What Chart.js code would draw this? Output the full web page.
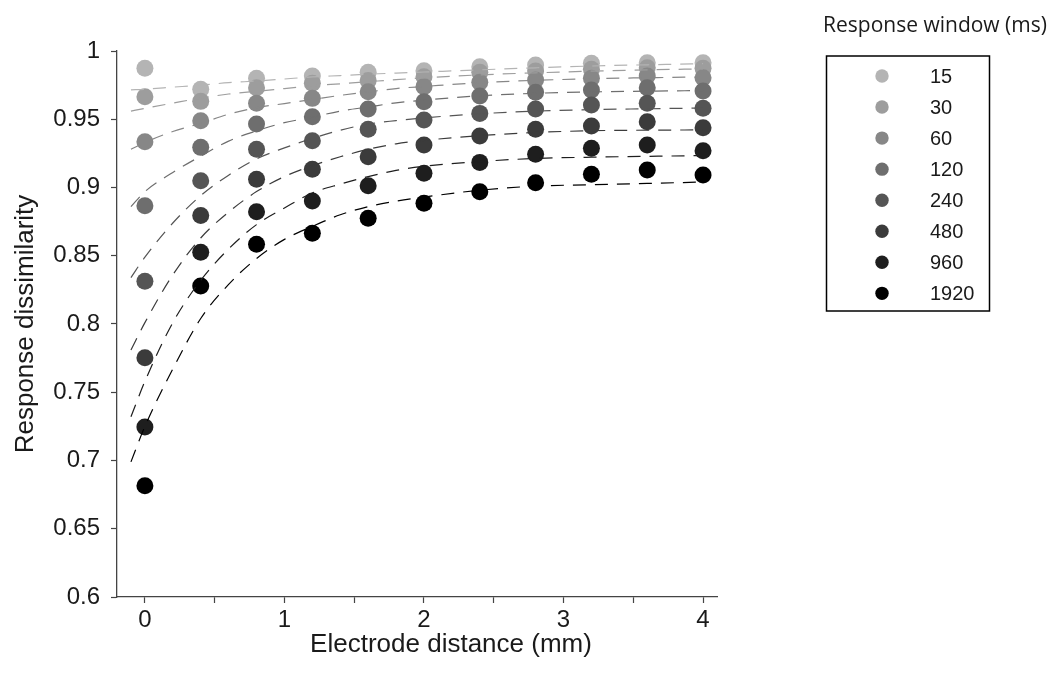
<!DOCTYPE html>
<html>
<head>
<meta charset="utf-8">
<script src="https://cdn.jsdelivr.net/npm/chart.js@4.4.1/dist/chart.umd.min.js"></script>
<style>
  html, body { margin: 0; padding: 0; background: #fff; }
  #wrap { width: 1055px; height: 675px; }
</style>
</head>
<body>
<div id="wrap"><canvas id="c" width="1055" height="675"></canvas></div>
<script>
// electrode distance (mm) for the measured points
const distanceMm = [0, 0.4, 0.8, 1.2, 1.6, 2, 2.4, 2.8, 3.2, 3.6, 4];
const windowLabels = ["15", "30", "60", "120", "240", "480", "960", "1920"];
const xTicks = [0, 0.5, 1, 1.5, 2, 2.5, 3, 3.5, 4];
const yTicks = [0.6, 0.65, 0.7, 0.75, 0.8, 0.85, 0.9, 0.95, 1];

// measured dissimilarity
const dots15 = [0.9873, 0.9719, 0.980, 0.9817, 0.9844, 0.9856, 0.9885, 0.9897, 0.991, 0.9914, 0.9914];
const dots30 = [0.9665, 0.9631, 0.9731, 0.9763, 0.9783, 0.9812, 0.9844, 0.9853, 0.9866, 0.9878, 0.9873];
const dots60 = [0.9336, 0.9489, 0.9617, 0.9653, 0.9702, 0.9739, 0.9771, 0.9788, 0.980, 0.9817, 0.9804];
const dots120 = [0.8867, 0.9294, 0.9465, 0.9519, 0.9575, 0.9629, 0.967, 0.9697, 0.9714, 0.9731, 0.9707];
const dots240 = [0.8313, 0.905, 0.928, 0.9343, 0.9426, 0.9495, 0.9543, 0.9575, 0.9604, 0.9617, 0.958];
const dots480 = [0.7753, 0.8795, 0.906, 0.9133, 0.9226, 0.9311, 0.9377, 0.9426, 0.9451, 0.9482, 0.9438];
const dots960 = [0.7245, 0.8525, 0.8823, 0.8901, 0.9013, 0.9104, 0.9184, 0.9243, 0.9287, 0.9311, 0.927];
const dots1920 = [0.6815, 0.8278, 0.8584, 0.8664, 0.8775, 0.8884, 0.8969, 0.9035, 0.9097, 0.9128, 0.9092];

// dashed fit curves
const fitX = [-0.1, 0, 0.2, 0.4, 0.6, 0.8, 1.0, 1.2, 1.4, 1.6, 1.8, 2.0, 2.4, 2.8, 3.2, 3.6, 4.0];
const fit15 = [0.9715, 0.972, 0.9735, 0.975, 0.9768, 0.978, 0.9795, 0.981, 0.982, 0.983, 0.9838, 0.9846, 0.9862, 0.9877, 0.989, 0.9899, 0.9907];
const fit30 = [0.956, 0.958, 0.9618, 0.9655, 0.9685, 0.9705, 0.9725, 0.9745, 0.976, 0.9775, 0.979, 0.9803, 0.9825, 0.984, 0.9852, 0.9862, 0.9869];
const fit60 = [0.928, 0.933, 0.941, 0.947, 0.9537, 0.9585, 0.9615, 0.9645, 0.9675, 0.970, 0.9725, 0.974, 0.9768, 0.9785, 0.9797, 0.9804, 0.981];
const fit120 = [0.886, 0.897, 0.911, 0.923, 0.934, 0.9415, 0.9475, 0.9515, 0.956, 0.959, 0.962, 0.964, 0.9672, 0.969, 0.970, 0.9706, 0.971];
const fit240 = [0.834, 0.849, 0.874, 0.894, 0.909, 0.921, 0.929, 0.936, 0.942, 0.9465, 0.949, 0.951, 0.954, 0.956, 0.957, 0.9577, 0.9582];
const fit480 = [0.781, 0.801, 0.836, 0.863, 0.882, 0.897, 0.908, 0.916, 0.9225, 0.928, 0.932, 0.9345, 0.938, 0.9403, 0.9416, 0.942, 0.9422];
const fit960 = [0.732, 0.758, 0.801, 0.832, 0.855, 0.8728, 0.885, 0.896, 0.9025, 0.908, 0.9125, 0.9155, 0.919, 0.9213, 0.9222, 0.9228, 0.9234];
const fit1920 = [0.699, 0.725, 0.767, 0.804, 0.829, 0.848, 0.862, 0.8715, 0.880, 0.886, 0.890, 0.893, 0.898, 0.901, 0.902, 0.903, 0.904];

const shades = ["#b4b4b4", "#9d9d9d", "#878787", "#6e6e6e", "#555555", "#3b3b3b", "#1e1e1e", "#000000"];

const dotSeries = [dots15, dots30, dots60, dots120, dots240, dots480, dots960, dots1920];
const fitSeries = [fit15, fit30, fit60, fit120, fit240, fit480, fit960, fit1920];

const axisColor = "#444444";
const textColor = "#1a1a1a";
const sans = '"Liberation Sans", Arial, sans-serif';

const datasets = [];
fitSeries.forEach((fit, i) => {
  datasets.push({
    type: "line",
    label: "fit " + windowLabels[i],
    isFit: true,
    data: fitX.map((x, k) => ({ x, y: fit[k] })),
    borderColor: shades[i],
    borderWidth: 1.2,
    borderDash: [13, 9],
    pointRadius: 0,
    fill: false,
    cubicInterpolationMode: "monotone",
    order: i,
    clip: false,
  });
});
dotSeries.forEach((vals, i) => {
  datasets.push({
    type: "scatter",
    label: windowLabels[i],
    data: distanceMm.map((x, k) => ({ x, y: vals[k] })),
    backgroundColor: shades[i],
    pointBackgroundColor: shades[i],
    pointBorderWidth: 0,
    pointRadius: 8.5,
    order: 20 - i,
    clip: false,
  });
});

// x label (sits a bit right of centre in the original) and the boxed legend
const extras = {
  id: "extras",
  afterDraw(chart) {
    const ctx = chart.ctx;
    ctx.save();
    ctx.fillStyle = textColor;
    ctx.textAlign = "center";
    ctx.textBaseline = "middle";
    ctx.font = "26px " + sans;
    ctx.fillText("Electrode distance (mm)", 451, 645);

    ctx.font = '21px "Open Sans", sans-serif';
    ctx.fillText("Response window (ms)", 935, 26);

    ctx.strokeStyle = "#000";
    ctx.lineWidth = 1.5;
    ctx.strokeRect(826.5, 56, 163, 255);

    ctx.font = "20px " + sans;
    ctx.textAlign = "left";
    chart.data.datasets.filter((d) => !d.isFit).forEach((d, i) => {
      const y = 76 + i * 31.05;
      ctx.fillStyle = d.backgroundColor;
      ctx.beginPath();
      ctx.arc(882, y, 6.7, 0, Math.PI * 2);
      ctx.fill();
      ctx.fillStyle = textColor;
      ctx.fillText(d.label, 930, y + 1);
    });
    ctx.restore();
  },
};

new Chart(document.getElementById("c"), {
  type: "scatter",
  data: { datasets },
  plugins: [extras],
  options: {
    responsive: false,
    animation: false,
    events: [],
    devicePixelRatio: 1,
    layout: { padding: { left: 0, top: 51, right: 338, bottom: 0 } },
    plugins: { legend: { display: false }, tooltip: { enabled: false } },
    scales: {
      x: {
        type: "linear",
        min: -0.2,
        max: 4.1,
        afterFit: (s) => { s.height = 78; },
        afterBuildTicks: (s) => { s.ticks = xTicks.map((v) => ({ value: v })); },
        grid: { drawOnChartArea: false, drawTicks: true, tickLength: 6, tickColor: axisColor, tickWidth: 1.2 },
        border: { display: true, color: axisColor, width: 1.3 },
        ticks: {
          autoSkip: false,
          maxRotation: 0,
          padding: 3,
          color: textColor,
          font: { family: sans, size: 24 },
          callback: (v) => (Number.isInteger(v) ? String(v) : ""),
        },
        title: { display: false },
      },
      y: {
        type: "linear",
        min: 0.6,
        max: 1,
        afterFit: (s) => { s.width = 117; },
        afterBuildTicks: (s) => { s.ticks = yTicks.map((v) => ({ value: v })); },
        grid: { drawOnChartArea: false, drawTicks: true, tickLength: 6, tickColor: axisColor, tickWidth: 1.2 },
        border: { display: true, color: axisColor, width: 1.3 },
        ticks: {
          padding: 11,
          color: textColor,
          font: { family: sans, size: 24 },
          callback: (v) => String(+Number(v).toFixed(2)),
        },
        title: {
          display: true,
          text: "Response dissimilarity",
          color: textColor,
          font: { family: sans, size: 26 },
          padding: { top: 10, bottom: 0 },
        },
      },
    },
  },
});
</script>
</body>
</html>
